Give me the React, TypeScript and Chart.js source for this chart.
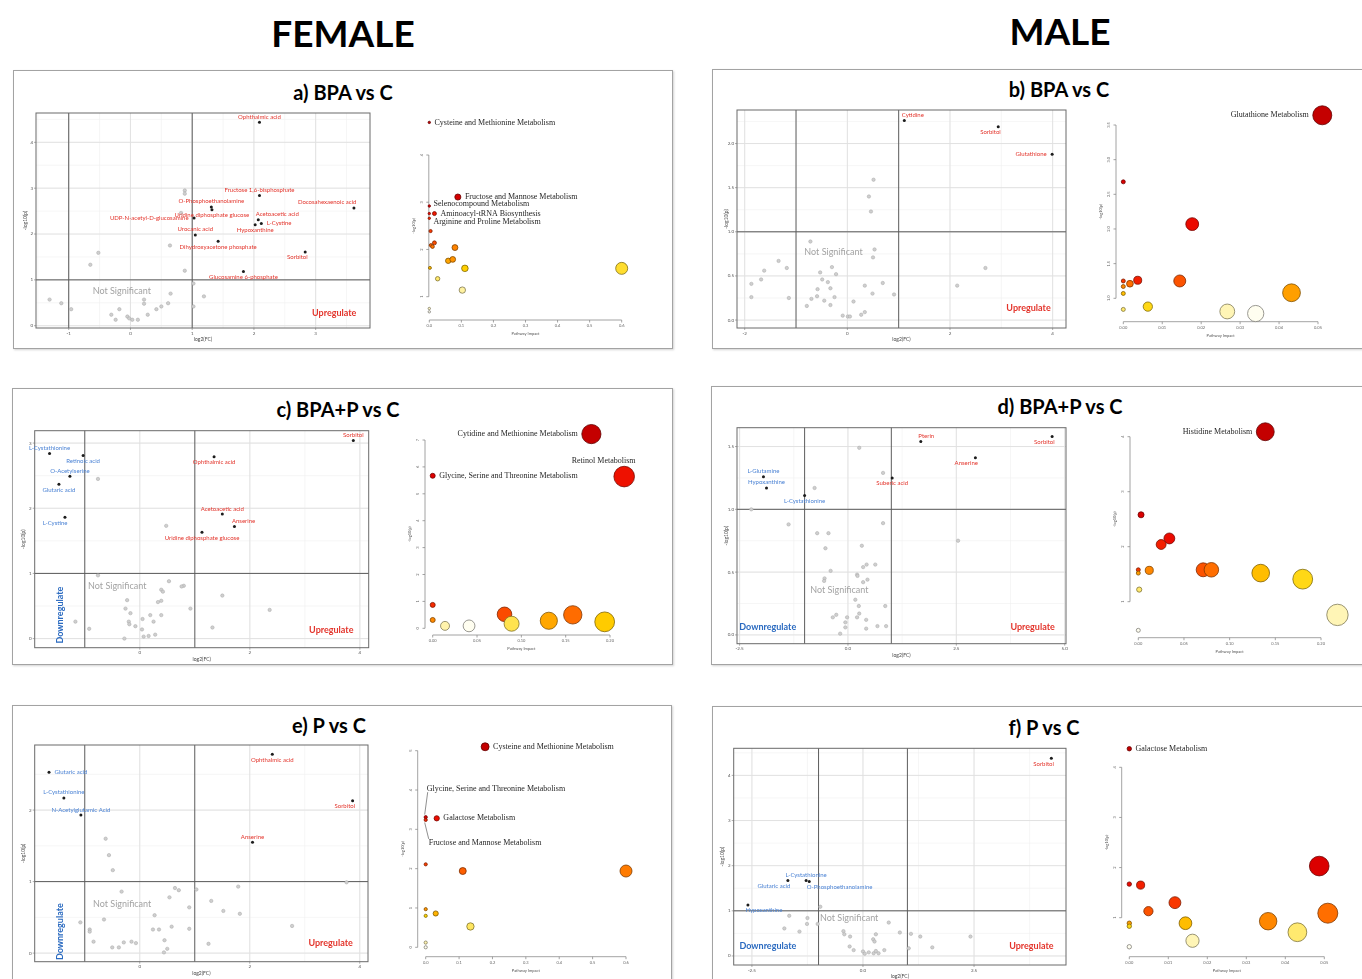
import React, { useEffect, useRef } from 'react';
import { Chart, registerables } from 'chart.js';
Chart.register(...registerables);

// ================= DATA =================
// ---- Volcano a) female BPA vs C ----
const aSigNames = ['Ophthalmic acid', 'Fructose 1,6-bisphosphate', 'Docosahexaenoic acid', 'O-Phosphoethanolamine', 'Uridine diphosphate glucose', 'UDP-N-acetyl-D-glucosamine', 'Acetoacetic acid', 'L-Cystine', 'Hypoxanthine', 'Urocanic acid', 'Dihydroxyacetone phosphate', 'Sorbitol', 'Glucosamine 6-phosphate'];
const aSigPts = [[2.09, 4.44], [2.09, 2.84], [3.62, 2.57], [1.31, 2.59], [1.32, 2.53], [1.03, 2.35], [2.07, 2.31], [2.12, 2.23], [2.02, 2.2], [1.05, 1.98], [1.42, 1.84], [2.83, 1.61], [1.83, 1.18]];
const aGray = [[0.88, 2.95], [0.88, 2.88], [0.82, 2.46], [0.64, 1.75], [-0.52, 1.59], [-0.65, 1.33], [0.88, 1.2], [1.02, 0.92], [1.19, 0.64], [1.02, 0.42], [-1.31, 0.57], [-1.12, 0.49], [-0.96, 0.36], [-0.31, 0.24], [-0.24, 0.13], [-0.18, 0.36], [-0.05, 0.2], [-0.02, 0.16], [0.03, 0.13], [0.12, 0.13], [0.22, 0.57], [0.22, 0.48], [0.28, 0.24], [0.42, 0.36], [0.5, 0.42], [0.61, 0.49], [0.65, 0.7]];
const aXTicks = [-1, 0, 1, 2, 3];
const aXTickLabels = ['-1', '0', '1', '2', '3'];
const aYTicks = [0, 1, 2, 3, 4];
const aYTickLabels = ['0', '1', '2', '3', '4'];

// ---- Volcano b) male BPA vs C ----
const bSigNames = ['Cytidine', 'Sorbitol', 'Glutathione'];
const bSigPts = [[1.11, 2.26], [2.94, 2.19], [3.99, 1.88]];
const bGray = [[0.51, 1.59], [0.42, 1.4], [0.46, 1.23], [-0.72, 0.89], [0.53, 0.8], [0.5, 0.71], [-1.34, 0.67], [-1.18, 0.59], [-1.62, 0.56], [-1.68, 0.46], [-1.87, 0.41], [-1.87, 0.26], [-1.14, 0.25], [-0.53, 0.54], [-0.3, 0.6], [-0.22, 0.52], [-0.49, 0.46], [-0.38, 0.43], [-0.58, 0.35], [-0.33, 0.36], [-0.59, 0.27], [-0.25, 0.26], [-0.7, 0.24], [-0.45, 0.22], [-0.79, 0.16], [-0.33, 0.17], [0.12, 0.21], [0.34, 0.39], [0.49, 0.3], [0.69, 0.42], [0.91, 0.29], [-0.09, 0.05], [0.01, 0.04], [0.05, 0.04], [0.27, 0.06], [0.34, 0.09], [2.14, 0.39], [2.69, 0.59]];
const bXTicks = [-2, 0, 2, 4];
const bXTickLabels = ['-2', '0', '2', '4'];
const bYTicks = [0, 0.5, 1, 1.5, 2];
const bYTickLabels = ['0.0', '0.5', '1.0', '1.5', '2.0'];

// ---- Volcano c) female BPA+P vs C ----
const cSigNames = ['L-Cystathionine', 'Retinoic acid', 'O-Acetylserine', 'Glutaric acid', 'L-Cystine', 'Sorbitol', 'Ophthalmic acid', 'Acetoacetic acid', 'Anserine', 'Uridine diphosphate glucose'];
const cSigPts = [[-1.64, 2.84], [-1.03, 2.81], [-1.27, 2.49], [-1.47, 2.37], [-1.36, 1.86], [3.88, 3.04], [1.35, 2.79], [1.5, 1.91], [1.72, 1.72], [1.13, 1.63]];
const cGray = [[-0.76, 2.45], [0.48, 1.73], [-0.76, 0.97], [0.53, 0.88], [0.8, 0.81], [0.76, 0.8], [0.39, 0.75], [0.42, 0.72], [-0.23, 0.59], [0.33, 0.56], [0.39, 0.58], [-0.26, 0.46], [-0.17, 0.39], [0.19, 0.36], [0.39, 0.36], [0.92, 0.46], [1.5, 0.66], [2.36, 0.44], [-1.17, 0.26], [-0.92, 0.15], [-0.2, 0.26], [-0.19, 0.22], [-0.08, 0.19], [0.05, 0.3], [0.25, 0.26], [0.04, 0.14], [0.07, 0.03], [0.16, 0.04], [0.28, 0.06], [-0.28, 0.0], [1.32, 0.17]];
const cXTicks = [0, 2, 4];
const cXTickLabels = ['0', '2', '4'];
const cYTicks = [0, 1, 2, 3];
const cYTickLabels = ['0', '1', '2', '3'];

// ---- Volcano d) male BPA+P vs C ----
const dSigNames = ['Pterin', 'Sorbitol', 'Anserine', 'Suberic acid', 'L-Glutamine', 'Hypoxanthine', 'L-Cystathionine'];
const dSigPts = [[1.68, 1.54], [4.71, 1.58], [2.94, 1.41], [1.02, 1.25], [-1.95, 1.26], [-1.88, 1.17], [-1.0, 1.11]];
const dGray = [[0.26, 1.49], [0.81, 1.29], [-0.77, 1.17], [-2.23, 1.0], [-1.37, 0.88], [0.81, 0.89], [-0.71, 0.81], [-0.45, 0.81], [-0.52, 0.69], [0.32, 0.71], [2.54, 0.75], [0.43, 0.56], [0.63, 0.56], [0.35, 0.54], [-0.4, 0.51], [0.21, 0.48], [0.22, 0.47], [-0.54, 0.45], [-0.55, 0.43], [0.45, 0.44], [0.35, 0.42], [0.17, 0.28], [0.25, 0.23], [0.86, 0.23], [-0.27, 0.16], [-0.35, 0.14], [-0.02, 0.14], [0.21, 0.14], [0.26, 0.17], [0.42, 0.12], [-0.06, 0.1], [-0.06, 0.06], [0.42, 0.05], [0.68, 0.07], [0.88, 0.07], [-0.18, 0.01]];
const dXTicks = [-2.5, 0, 2.5, 5];
const dXTickLabels = ['-2.5', '0.0', '2.5', '5.0'];
const dYTicks = [0, 0.5, 1, 1.5];
const dYTickLabels = ['0.0', '0.5', '1.0', '1.5'];

// ---- Volcano e) female P vs C ----
const eSigNames = ['Glutaric acid', 'L-Cystathionine', 'N-Acetylglutamic Acid', 'Ophthalmic acid', 'Sorbitol', 'Anserine'];
const eSigPts = [[-1.65, 2.53], [-1.38, 2.17], [-1.07, 1.93], [2.41, 2.78], [3.87, 2.13], [2.05, 1.55]];
const eGray = [[-0.62, 1.6], [-0.56, 1.37], [-0.49, 1.16], [3.76, 0.99], [-0.33, 0.86], [0.64, 0.91], [0.71, 0.88], [0.54, 0.78], [1.03, 0.89], [1.79, 0.93], [1.3, 0.73], [1.52, 0.59], [1.82, 0.55], [0.9, 0.64], [0.27, 0.53], [-1.08, 0.43], [-0.91, 0.33], [-0.91, 0.3], [-0.65, 0.47], [-0.84, 0.16], [-0.5, 0.08], [-0.38, 0.08], [-0.29, 0.15], [-0.15, 0.16], [-0.07, 0.14], [0.24, 0.33], [0.35, 0.33], [0.58, 0.37], [0.9, 0.34], [0.45, 0.18], [0.5, 0.06], [0.44, 0.01], [1.25, 0.13], [2.77, 0.38]];
const eXTicks = [0, 2, 4];
const eXTickLabels = ['0', '2', '4'];
const eYTicks = [0, 1, 2];
const eYTickLabels = ['0', '1', '2'];

// ---- Volcano f) male P vs C ----
const fSigNames = ['Sorbitol', 'L-Cystathionine', 'Glutaric acid', 'O-Phosphoethanolamine', 'Hypoxanthine'];
const fSigPts = [[4.24, 4.38], [-1.28, 1.67], [-1.69, 1.67], [-1.21, 1.65], [-2.59, 1.13]];
const fGray = [[-0.96, 1.09], [-1.66, 0.89], [-1.25, 0.84], [-1.26, 0.71], [-1.02, 0.71], [-1.77, 0.61], [-1.43, 0.54], [-0.44, 0.55], [-0.42, 0.48], [-0.29, 0.43], [0.29, 0.48], [0.58, 0.74], [0.83, 0.52], [1.08, 0.49], [1.29, 0.43], [0.23, 0.37], [0.26, 0.32], [2.42, 0.43], [1.56, 0.19], [1.03, 0.17], [-0.3, 0.21], [-0.21, 0.13], [0, 0.1], [0.04, 0.05], [0.13, 0.08], [0.24, 0.06], [0.29, 0.11], [0.35, 0.06], [0.48, 0.13]];
const fXTicks = [-2.5, 0, 2.5];
const fXTickLabels = ['-2.5', '0.0', '2.5'];
const fYTicks = [0, 1, 2, 3, 4];
const fYTickLabels = ['0', '1', '2', '3', '4'];

// ---- Pathway bubbles: [impact, -log10(p)] ----
const aPathPts = [[0, 4.69], [0.089, 3.11], [0, 2.92], [0, 2.76], [0.016, 2.76], [0, 2.66], [0.004, 2.39], [0.005, 2.09], [0.016, 2.14], [0.01, 2.06], [0.08, 2.04], [0.059, 1.76], [0.073, 1.79], [0.111, 1.6], [0.002, 1.61], [0.026, 1.38], [0.103, 1.14], [0.6, 1.6], [0, 0.75], [0, 0.68]];
const aPathNames = ['Cysteine and Methionine Metabolism', 'Fructose and Mannose Metabolism', 'Selenocompound Metabolism', '', 'Aminoacyl-tRNA Biosynthesis', 'Arginine and Proline Metabolism'];
const aBubXTicks = [0, 0.1, 0.2, 0.3, 0.4, 0.5, 0.6];
const aBubXLabels = ['0.0', '0.1', '0.2', '0.3', '0.4', '0.5', '0.6'];
const aBubYTicks = [1, 2, 3, 4];
const aBubYLabels = ['1', '2', '3', '4'];

const bPathPts = [[0.0511, 3.64], [0, 2.68], [0.0177, 2.07], [0, 1.25], [0.0037, 1.26], [0.0017, 1.21], [0, 1.17], [0, 1.07], [0.0145, 1.25], [0.0063, 0.88], [0, 0.84], [0.0267, 0.81], [0.034, 0.78], [0.0432, 1.08]];
const bPathNames = ['Glutathione Metabolism'];
const bBubXTicks = [0, 0.01, 0.02, 0.03, 0.04, 0.05];
const bBubXLabels = ['0.00', '0.01', '0.02', '0.03', '0.04', '0.05'];
const bBubYTicks = [1, 1.5, 2, 2.5, 3, 3.5];
const bBubYLabels = ['1.0', '1.5', '2.0', '2.5', '3.0', '3.5'];

const cPathPts = [[0.179, 7.22], [0.216, 5.64], [0, 5.67], [0, 0.87], [0, 0.31], [0.0139, 0.09], [0.041, 0.09], [0.081, 0.52], [0.089, 0.17], [0.131, 0.28], [0.158, 0.5], [0.194, 0.24]];
const cPathNames = ['Cytidine and Methionine Metabolism', 'Retinol Metabolism', 'Glycine, Serine and Threonine Metabolism'];
const cBubXTicks = [0, 0.05, 0.1, 0.15, 0.2];
const cBubXLabels = ['0.00', '0.05', '0.10', '0.15', '0.20'];
const cBubYTicks = [0, 1, 2, 3, 4, 5, 6, 7];
const cBubYLabels = ['0', '1', '2', '3', '4', '5', '6', '7'];

const dPathPts = [[0.139, 4.09], [0.003, 2.58], [0.034, 2.15], [0.025, 2.04], [0, 1.58], [0, 1.52], [0.012, 1.57], [0.071, 1.58], [0.08, 1.58], [0.134, 1.52], [0.18, 1.41], [0.001, 1.22], [0.218, 0.76], [0, 0.48]];
const dPathNames = ['Histidine Metabolism'];
const dBubXTicks = [0, 0.05, 0.1, 0.15, 0.2];
const dBubXLabels = ['0.00', '0.05', '0.10', '0.15', '0.20'];
const dBubYTicks = [1, 2, 3, 4];
const dBubYLabels = ['1', '2', '3', '4'];

const ePathPts = [[0.178, 5.1], [0, 3.31], [0.033, 3.28], [0, 3.24], [0, 2.11], [0.111, 1.94], [0.6, 1.94], [0, 0.97], [0, 0.8], [0.03, 0.86], [0.134, 0.53], [0, 0.12], [0, 0]];
const ePathNames = ['Cysteine and Methionine Metabolism', 'Glycine, Serine and Threonine Metabolism', 'Galactose Metabolism', 'Fructose and Mannose Metabolism'];
const eBubXTicks = [0, 0.1, 0.2, 0.3, 0.4, 0.5, 0.6];
const eBubXLabels = ['0.0', '0.1', '0.2', '0.3', '0.4', '0.5', '0.6'];
const eBubYTicks = [0, 1, 2, 3, 4, 5];
const eBubYLabels = ['0', '1', '2', '3', '4', '5'];

const fPathPts = [[0, 4.37], [0, 1.67], [0.0029, 1.65], [0.0487, 2.03], [0.0117, 1.3], [0.0049, 1.13], [0, 0.89], [0, 0.83], [0.0144, 0.89], [0.0356, 0.93], [0.0509, 1.09], [0.0431, 0.71], [0.0162, 0.54], [0, 0.42]];
const fPathNames = ['Galactose Metabolism'];
const fBubXTicks = [0, 0.01, 0.02, 0.03, 0.04, 0.05];
const fBubXLabels = ['0.00', '0.01', '0.02', '0.03', '0.04', '0.05'];
const fBubYTicks = [1, 2, 3, 4];
const fBubYLabels = ['1', '2', '3', '4'];

// ================= LAYOUT (positions / styles) =================
const SANS = "Lato, 'Liberation Sans', sans-serif";
const SERIF = "'Liberation Serif', 'DejaVu Serif', serif";
const RED = '#e3342b';
const BLUE = '#4a82d4';

const minorBetween = (t: number[], lo: number, hi: number) => {
  const step = t[1] - t[0];
  const out: number[] = [];
  for (let v = t[0] - step * 3; v <= hi; v += step / 2) if (v >= lo && v <= hi) out.push(+v.toFixed(4));
  return out;
};

const VOLC: any[] = [
  { rect: [36, 113, 370, 328], xr: [-1.53, 3.88], yr: [-0.05, 4.64], xT: aXTicks, xL: aXTickLabels, yT: aYTicks, yL: aYTickLabels, gray: aGray, sig: aSigPts, names: aSigNames,
    place: ['a', 'a', 'al', 'a', 'b', 'l', 'ar', 'r', 'b', 'a', 'b', 'bl', 'b'], notSig: [-0.14, 0.76], up: [3.3, 0.28] },
  { rect: [737, 110, 1066, 328], xr: [-2.15, 4.26], yr: [-0.09, 2.38], xT: bXTicks, xL: bXTickLabels, yT: bYTicks, yL: bYTickLabels, gray: bGray, sig: bSigPts, names: bSigNames,
    place: ['ar', 'bl', 'l'], notSig: [-0.27, 0.77], up: [3.53, 0.14] },
  { rect: [34.7, 430.7, 368.7, 647.7], xr: [-1.91, 4.16], yr: [-0.14, 3.19], xT: cXTicks, xL: cXTickLabels, yT: cYTicks, yL: cYTickLabels, gray: cGray, sig: cSigPts, names: cSigNames,
    place: ['a', 'b', 'a', 'b', 'bl', 'a', 'b', 'a', 'ar', 'b'], notSig: [-0.41, 0.81], up: [3.48, 0.13], down: [-1.44, 0.36], downV: true },
  { rect: [737, 427.7, 1066, 643.7], xr: [-2.56, 5.03], yr: [-0.07, 1.65], xT: dXTicks, xL: dXTickLabels, yT: dYTicks, yL: dYTickLabels, gray: dGray, sig: dSigPts, names: dSigNames,
    place: ['ar', 'bl', 'bl', 'b', 'a', 'a', 'b'], notSig: [-0.2, 0.36], up: [4.26, 0.06], down: [-1.85, 0.06], downV: false },
  { rect: [34.7, 745, 368, 961.7], xr: [-1.91, 4.15], yr: [-0.12, 2.91], xT: eXTicks, xL: eXTickLabels, yT: eYTicks, yL: eYTickLabels, gray: eGray, sig: eSigPts, names: eSigNames,
    place: ['r', 'a', 'a', 'b', 'bl', 'a'], notSig: [-0.32, 0.69], up: [3.47, 0.14], down: [-1.44, 0.3], downV: true },
  { rect: [733.7, 748.3, 1066, 965], xr: [-2.91, 4.57], yr: [-0.2, 4.6], xT: fXTicks, xL: fXTickLabels, yT: fYTicks, yL: fYTickLabels, gray: fGray, sig: fSigPts, names: fSigNames,
    place: ['bl', 'a', 'bl', 'br', 'br'], notSig: [-0.31, 0.85], up: [3.79, 0.21], down: [-2.14, 0.21], downV: false },
];

// rect = pixel box spanned by the first/last ticks of each axis
const BUB: any[] = [
  { rect: [429.3, 155, 621.7, 296.7], yOff: 0.5, xOff: 23.3, pts: aPathPts, names: aPathNames, place: ['r', 'r', 'ru', 'r', 'r', 'rd'], rmin: 1.2, rmax: 6, xT: aBubXTicks, xL: aBubXLabels, yT: aBubYTicks, yL: aBubYLabels },
  { rect: [1123.3, 125, 1318, 298.3], yOff: 7.3, xOff: 23.4, pts: bPathPts, names: bPathNames, place: ['l'], rmin: 2, rmax: 9.5, xT: bBubXTicks, xL: bBubXLabels, yT: bBubYTicks, yL: bBubYLabels },
  { rect: [432.7, 440, 610, 628.3], yOff: 7.7, xOff: 6.7, pts: cPathPts, names: cPathNames, place: ['l', 'al', 'r'], rmin: 2.5, rmax: 10.3, xT: cBubXTicks, xL: cBubXLabels, yT: cBubYTicks, yL: cBubYLabels },
  { rect: [1138.3, 436.7, 1321, 601.7], yOff: 8.3, xOff: 36, pts: dPathPts, names: dPathNames, place: ['l'], rmin: 2, rmax: 10.7, xT: dBubXTicks, xL: dBubXLabels, yT: dBubYTicks, yL: dBubYLabels },
  { rect: [425.7, 750.7, 626, 947.3], yOff: 8, xOff: 9.4, pts: ePathPts, names: ePathNames, place: ['r', 'up', 'r', 'dn'], rmin: 1.6, rmax: 6, xT: eBubXTicks, xL: eBubXLabels, yT: eBubYTicks, yL: eBubYLabels },
  { rect: [1129.3, 767.3, 1324.3, 917.7], yOff: 7.6, xOff: 39, pts: fPathPts, names: fPathNames, place: ['r'], rmin: 2.2, rmax: 10, xT: fBubXTicks, xL: fBubXLabels, yT: fBubYTicks, yL: fBubYLabels },
];

const PANELS = [
  { title: 'a) BPA vs C', box: [13, 70, 673, 349], tc: [343, 92] },
  { title: 'b) BPA vs C', box: [712, 69, 1380, 349], tc: [1059, 89] },
  { title: 'c) BPA+P vs C', box: [12, 388, 673, 665], tc: [338, 409] },
  { title: 'd) BPA+P vs C', box: [711, 386, 1380, 665], tc: [1060, 406] },
  { title: 'e) P vs C', box: [12, 705, 672, 995], tc: [329, 725] },
  { title: 'f) P vs C', box: [712, 706, 1380, 995], tc: [1044, 727] },
];

// ================= HELPERS =================
const HEAT: [number, number[]][] = [
  [0, [196, 0, 0]], [0.12, [232, 0, 0]], [0.28, [248, 45, 0]], [0.46, [255, 110, 0]],
  [0.62, [255, 160, 0]], [0.75, [255, 212, 0]], [0.88, [255, 240, 150]], [1, [255, 254, 240]],
];
function heat(t: number) {
  for (let i = 1; i < HEAT.length; i++) {
    if (t <= HEAT[i][0]) {
      const [t0, c0] = HEAT[i - 1];
      const [t1, c1] = HEAT[i];
      const f = (t - t0) / (t1 - t0);
      return c0.map((v, k) => Math.round(v + (c1[k] - v) * f));
    }
  }
  return HEAT[HEAT.length - 1][1];
}
const rgb = (c: number[]) => `rgb(${c[0]},${c[1]},${c[2]})`;

function placeText(ctx: CanvasRenderingContext2D, text: string, px: number, py: number, r: number, place: string) {
  let x = px, y = py;
  switch (place) {
    case 'a': ctx.textAlign = 'center'; ctx.textBaseline = 'bottom'; y = py - r - 1; break;
    case 'al': ctx.textAlign = 'right'; ctx.textBaseline = 'bottom'; x = px + r + 1; y = py - r - 1; break;
    case 'ar': ctx.textAlign = 'left'; ctx.textBaseline = 'bottom'; x = px - r - 1; y = py - r - 1; break;
    case 'b': ctx.textAlign = 'center'; ctx.textBaseline = 'top'; y = py + r + 1; break;
    case 'bl': ctx.textAlign = 'right'; ctx.textBaseline = 'top'; x = px + r + 1; y = py + r + 1; break;
    case 'br': ctx.textAlign = 'left'; ctx.textBaseline = 'top'; x = px - r - 1; y = py + r + 1; break;
    case 'l': ctx.textAlign = 'right'; ctx.textBaseline = 'middle'; x = px - r - 4; break;
    case 'r': ctx.textAlign = 'left'; ctx.textBaseline = 'middle'; x = px + r + 4; break;
    case 'ru': ctx.textAlign = 'left'; ctx.textBaseline = 'middle'; x = px + r + 3; y = py - 2.5; break;
    case 'rd': ctx.textAlign = 'left'; ctx.textBaseline = 'middle'; x = px + r + 3; y = py + 4; break;
    case 'up':
      ctx.beginPath(); ctx.moveTo(px - 1, py - r - 1); ctx.lineTo(px + 2, py - 25); ctx.stroke();
      ctx.textAlign = 'left'; ctx.textBaseline = 'middle'; x = px + 1; y = py - 28; break;
    case 'dn':
      ctx.beginPath(); ctx.moveTo(px - 1, py + r + 1); ctx.lineTo(px + 3, py + 19); ctx.stroke();
      ctx.textAlign = 'left'; ctx.textBaseline = 'middle'; x = px + 3; y = py + 23; break;
  }
  ctx.fillText(text, x, y);
}

function line(ctx: CanvasRenderingContext2D, x0: number, y0: number, x1: number, y1: number) {
  ctx.beginPath(); ctx.moveTo(x0, y0); ctx.lineTo(x1, y1); ctx.stroke();
}

function canvasBox(rect: number[], pl: number, pt: number, pr: number, pb: number) {
  const x = Math.floor(rect[0] - pl), y = Math.floor(rect[1] - pt);
  const w = Math.ceil(rect[2] + pr) - x, h = Math.ceil(rect[3] + pb) - y;
  return { x, y, w, h, pad: { left: rect[0] - x, top: rect[1] - y, right: x + w - rect[2], bottom: y + h - rect[3] } };
}

function buildVolcano(canvas: HTMLCanvasElement, cfg: any, box: any) {
  const pad = box.pad;
  const xMinor = minorBetween(cfg.xT, cfg.xr[0], cfg.xr[1]);
  const yMinor = minorBetween(cfg.yT, cfg.yr[0], cfg.yr[1]);
  const plugin = {
    id: 'volcanoDecor',
    beforeDatasetsDraw(chart: any) {
      const { ctx, chartArea: a, scales } = chart;
      const sx = scales.x, sy = scales.y;
      ctx.save();
      ctx.strokeStyle = '#f0f0f0'; ctx.lineWidth = 0.6;
      xMinor.forEach((v: number) => { const p = sx.getPixelForValue(v); line(ctx, p, a.top, p, a.bottom); });
      yMinor.forEach((v: number) => { const p = sy.getPixelForValue(v); line(ctx, a.left, p, a.right, p); });
      ctx.strokeStyle = '#e0e0e0'; ctx.lineWidth = 0.9;
      cfg.xT.forEach((v: number) => { const p = sx.getPixelForValue(v); line(ctx, p, a.top, p, a.bottom); });
      cfg.yT.forEach((v: number) => { const p = sy.getPixelForValue(v); line(ctx, a.left, p, a.right, p); });
      ctx.strokeStyle = '#5c5c5c'; ctx.lineWidth = 1;
      [-1, 1].forEach((v) => { const p = sx.getPixelForValue(v); line(ctx, p, a.top, p, a.bottom); });
      const ty = sy.getPixelForValue(1); line(ctx, a.left, ty, a.right, ty);
      ctx.strokeStyle = '#6a6a6a'; ctx.lineWidth = 1;
      ctx.strokeRect(a.left, a.top, a.right - a.left, a.bottom - a.top);
      ctx.restore();
    },
    afterDatasetsDraw(chart: any) {
      const { ctx, chartArea: a, scales } = chart;
      const sx = scales.x, sy = scales.y;
      ctx.save();
      ctx.fillStyle = '#555'; ctx.strokeStyle = '#777'; ctx.lineWidth = 0.6;
      ctx.font = `4.5px ${SANS}`;
      ctx.textAlign = 'center'; ctx.textBaseline = 'top';
      cfg.xT.forEach((v: number, i: number) => { const p = sx.getPixelForValue(v); line(ctx, p, a.bottom, p, a.bottom + 2); ctx.fillText(cfg.xL[i], p, a.bottom + 3); });
      ctx.textAlign = 'right'; ctx.textBaseline = 'middle';
      cfg.yT.forEach((v: number, i: number) => { const p = sy.getPixelForValue(v); line(ctx, a.left - 2, p, a.left, p); ctx.fillText(cfg.yL[i], a.left - 3, p); });
      ctx.font = `5px ${SANS}`; ctx.fillStyle = '#444';
      ctx.textAlign = 'center'; ctx.textBaseline = 'top';
      ctx.fillText('log2(FC)', (a.left + a.right) / 2, a.bottom + 9);
      ctx.save(); ctx.translate(a.left - 11, (a.top + a.bottom) / 2); ctx.rotate(-Math.PI / 2);
      ctx.textBaseline = 'middle'; ctx.fillText('-log10(p)', 0, 0); ctx.restore();
      ctx.font = `6px ${SANS}`;
      cfg.sig.forEach((p: number[], i: number) => {
        ctx.fillStyle = p[0] < 0 ? BLUE : RED;
        placeText(ctx, cfg.names[i], sx.getPixelForValue(p[0]), sy.getPixelForValue(p[1]), 1.5, cfg.place[i] || 'a');
      });
      ctx.textAlign = 'center'; ctx.textBaseline = 'middle';
      ctx.font = `9px ${SANS}`; ctx.fillStyle = '#a3a3a3';
      ctx.fillText('Not Significant', sx.getPixelForValue(cfg.notSig[0]), sy.getPixelForValue(cfg.notSig[1]));
      ctx.font = `bold 9px ${SANS}`; ctx.fillStyle = RED;
      ctx.fillText('Upregulate', sx.getPixelForValue(cfg.up[0]), sy.getPixelForValue(cfg.up[1]));
      if (cfg.down) {
        ctx.fillStyle = '#2a6ac0';
        const dx = sx.getPixelForValue(cfg.down[0]), dy = sy.getPixelForValue(cfg.down[1]);
        if (cfg.downV) { ctx.save(); ctx.translate(dx, dy); ctx.rotate(-Math.PI / 2); ctx.fillText('Downregulate', 0, 0); ctx.restore(); }
        else ctx.fillText('Downregulate', dx, dy);
      }
      ctx.restore();
    },
  };
  return new Chart(canvas, {
    type: 'scatter',
    data: {
      datasets: [
        { data: cfg.gray.map((p: number[]) => ({ x: p[0], y: p[1] })), pointRadius: 1.7, pointHoverRadius: 1.7, backgroundColor: '#cfcfcf', borderColor: '#a6a6a6', borderWidth: 0.5 },
        { data: cfg.sig.map((p: number[]) => ({ x: p[0], y: p[1] })), pointRadius: 1.5, pointHoverRadius: 1.5, backgroundColor: '#1c1c1c', borderColor: '#1c1c1c', borderWidth: 0 },
      ],
    },
    options: {
      responsive: false, animation: false, devicePixelRatio: 1, events: [],
      layout: { padding: pad, autoPadding: false },
      plugins: { legend: { display: false }, tooltip: { enabled: false } },
      scales: {
        x: { type: 'linear', display: false, min: cfg.xr[0], max: cfg.xr[1] },
        y: { type: 'linear', display: false, min: cfg.yr[0], max: cfg.yr[1] },
      },
    } as any,
    plugins: [plugin],
  });
}

function buildBubble(canvas: HTMLCanvasElement, cfg: any, box: any) {
  const pts: number[][] = cfg.pts;
  const n = pts.length;
  const order = pts.map((_, i) => i).sort((i, j) => pts[j][1] - pts[i][1]);
  const rank: number[] = new Array(n);
  order.forEach((idx, k) => { rank[idx] = k; });
  const fills = rank.map((k) => heat(n > 1 ? k / (n - 1) : 0));
  const xmaxData = Math.max(...pts.map((p) => p[0]));
  const rad = (x: number) => cfg.rmin + (cfg.rmax - cfg.rmin) * Math.sqrt(Math.max(0, x) / xmaxData);
  const xT: number[] = cfg.xT, yT: number[] = cfg.yT;
  const r = cfg.rect;
  const P = 1;
  const aL = box.x + P, aR = box.x + box.w - P, aT = box.y + P, aB = box.y + box.h - P;
  const kx = (r[2] - r[0]) / (xT[xT.length - 1] - xT[0]);
  const ky = (r[3] - r[1]) / (yT[yT.length - 1] - yT[0]);
  const xmin = xT[0] - (r[0] - aL) / kx, xmax = xT[xT.length - 1] + (aR - r[2]) / kx;
  const ymin = yT[0] - (aB - r[3]) / ky, ymax = yT[yT.length - 1] + (r[1] - aT) / ky;
  const plugin = {
    id: 'bubbleDecor',
    beforeDatasetsDraw(chart: any) {
      const { ctx, scales } = chart;
      const sx = scales.x, sy = scales.y;
      ctx.save();
      ctx.strokeStyle = '#8c8c8c'; ctx.lineWidth = 0.8; ctx.fillStyle = '#666';
      const x0 = sx.getPixelForValue(xT[0]), x1 = sx.getPixelForValue(xT[xT.length - 1]);
      const y0 = sy.getPixelForValue(yT[0]), y1 = sy.getPixelForValue(yT[yT.length - 1]);
      const ax = x0 - cfg.yOff;
      const ay = y0 + cfg.xOff;
      line(ctx, ax, y0, ax, y1);
      line(ctx, x0, ay, x1, ay);
      ctx.font = `4px ${SANS}`;
      ctx.textAlign = 'center'; ctx.textBaseline = 'top';
      xT.forEach((v, i) => { const p = sx.getPixelForValue(v); line(ctx, p, ay, p, ay + 2.5); ctx.fillText(cfg.xL[i], p, ay + 4); });
      yT.forEach((v, i) => {
        const p = sy.getPixelForValue(v); line(ctx, ax - 2.5, p, ax, p);
        ctx.save(); ctx.translate(ax - 5, p); ctx.rotate(-Math.PI / 2); ctx.textBaseline = 'bottom'; ctx.fillText(cfg.yL[i], 0, 0); ctx.restore();
      });
      ctx.fillStyle = '#555';
      ctx.fillText('Pathway Impact', (x0 + x1) / 2, ay + 12);
      ctx.save(); ctx.translate(ax - 13, (y0 + y1) / 2); ctx.rotate(-Math.PI / 2);
      ctx.textBaseline = 'bottom'; ctx.fillText('-log10(p)', 0, 0); ctx.restore();
      ctx.restore();
    },
    afterDatasetsDraw(chart: any) {
      const { ctx, scales } = chart;
      const sx = scales.x, sy = scales.y;
      ctx.save();
      ctx.font = `8px ${SERIF}`; ctx.fillStyle = '#262626'; ctx.strokeStyle = '#444'; ctx.lineWidth = 0.6;
      cfg.names.forEach((nm: string, i: number) => {
        if (!nm) return;
        const p = pts[i];
        placeText(ctx, nm, sx.getPixelForValue(p[0]), sy.getPixelForValue(p[1]), rad(p[0]), cfg.place[i] || 'r');
      });
      ctx.restore();
    },
  };
  return new Chart(canvas, {
    type: 'bubble',
    data: {
      datasets: [{
        data: pts.map((p) => ({ x: p[0], y: p[1], r: rad(p[0]) })),
        backgroundColor: fills.map(rgb),
        borderColor: fills.map((c) => rgb(c.map((v) => Math.round(v * 0.5)))),
        borderWidth: 0.8, hoverRadius: 0, clip: false,
      }],
    },
    options: {
      responsive: false, animation: false, devicePixelRatio: 1, events: [],
      layout: { padding: P, autoPadding: false },
      plugins: { legend: { display: false }, tooltip: { enabled: false } },
      scales: {
        x: { type: 'linear', display: false, min: xmin, max: xmax },
        y: { type: 'linear', display: false, min: ymin, max: ymax },
      },
    } as any,
    plugins: [plugin],
  });
}

function ChartCanvas({ kind, cfg }: { kind: 'v' | 'b'; cfg: any }) {
  const ref = useRef<HTMLCanvasElement>(null);
  const box = kind === 'v' ? canvasBox(cfg.rect, 30, 14, 14, 22) : canvasBox(cfg.rect, 45, 60, 75, 55);
  useEffect(() => {
    if (!ref.current) return;
    const ch = kind === 'v' ? buildVolcano(ref.current, cfg, box) : buildBubble(ref.current, cfg, box);
    return () => ch.destroy();
  }, []);
  return (
    <canvas ref={ref} width={box.w} height={box.h}
      style={{ position: 'absolute', left: box.x, top: box.y, width: box.w, height: box.h }} />
  );
}

export default function App() {
  return (
    <div style={{ position: 'absolute', left: 0, top: 0, width: 1362, height: 979, overflow: 'hidden', background: '#fff', fontFamily: SANS }}>
      <div style={{ position: 'absolute', left: 343, top: 32, transform: 'translate(-50%,-50%)', font: `bold 37px ${SANS}`, color: '#000', whiteSpace: 'nowrap' }}>FEMALE</div>
      <div style={{ position: 'absolute', left: 1060, top: 30, transform: 'translate(-50%,-50%)', font: `bold 37px ${SANS}`, color: '#000', whiteSpace: 'nowrap' }}>MALE</div>
      {PANELS.map((p, i) => (
        <React.Fragment key={i}>
          <div style={{ position: 'absolute', left: p.box[0], top: p.box[1], width: p.box[2] - p.box[0], height: p.box[3] - p.box[1], border: '1px solid #a3a3a3', boxShadow: '1px 1px 2px rgba(0,0,0,0.18)', boxSizing: 'border-box' }} />
          <div style={{ position: 'absolute', left: p.tc[0], top: p.tc[1], transform: 'translate(-50%,-50%)', font: `bold 20px ${SANS}`, color: '#000', whiteSpace: 'nowrap' }}>{p.title}</div>
        </React.Fragment>
      ))}
      {VOLC.map((c, i) => <ChartCanvas key={'v' + i} kind="v" cfg={c} />)}
      {BUB.map((c, i) => <ChartCanvas key={'b' + i} kind="b" cfg={c} />)}
    </div>
  );
}
